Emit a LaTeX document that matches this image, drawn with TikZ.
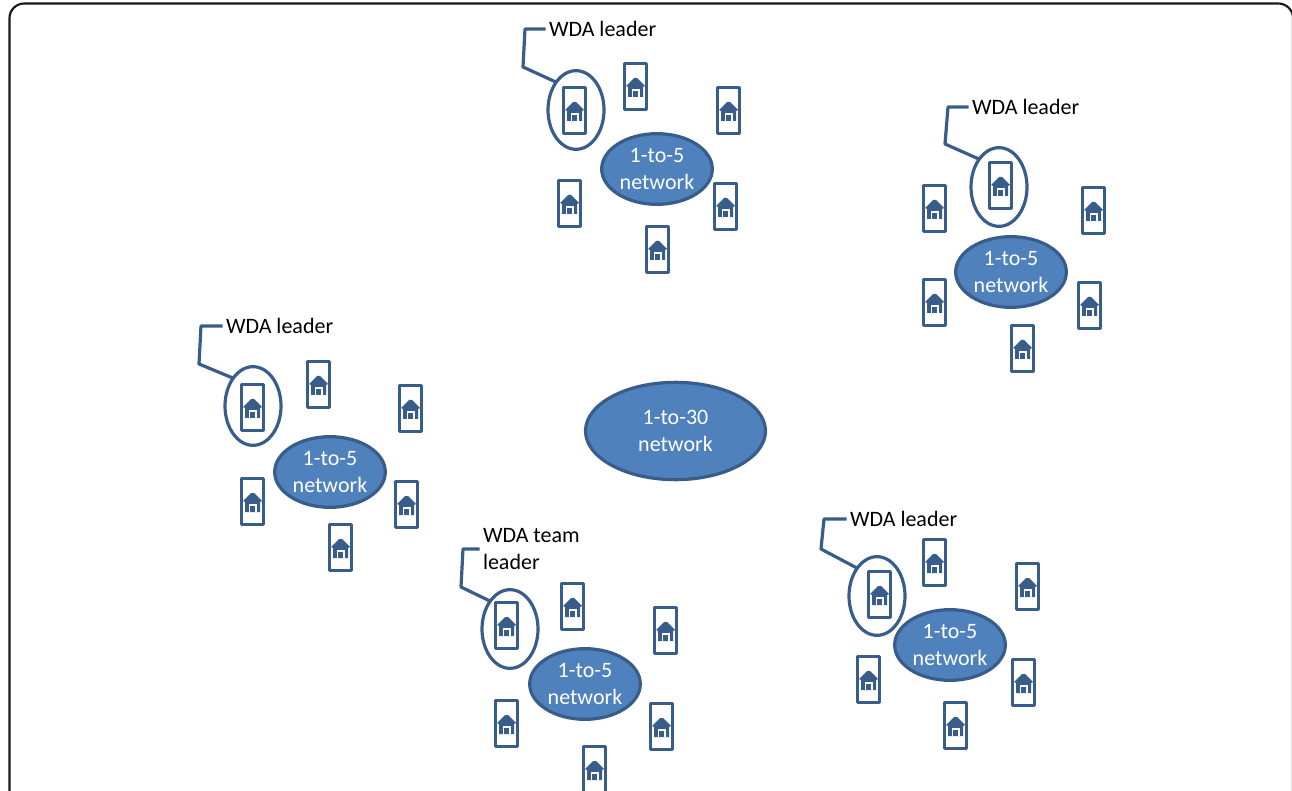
\documentclass[tikz,border=0pt]{standalone}
\usepackage{fontspec}
\setmainfont{Carlito}
\usepackage{tikz}
\usetikzlibrary{positioning, shapes.geometric}

\definecolor{netfill}{HTML}{4F81BD}
\definecolor{netline}{HTML}{385D8A}

\tikzset{
    net/.style={draw=netline, fill=netfill, ellipse, line width=2.4pt, inner sep=0, outer sep=0,
        align=center, text=white, font=\fontsize{16.5}{20}\selectfont},
    ring/.style={draw=netline, ellipse, line width=2.4pt, inner sep=0, outer sep=0,
        minimum width=42pt, minimum height=59pt},
    tag/.style={inner sep=0, outer sep=0, anchor=west, align=left, text=black,
        font=\fontsize{16.5}{20}\selectfont},
    tagline/.style={draw=netline, line width=2.4pt, line join=round, shorten <=2.5pt},
    phone/.pic={
        \draw[netline, line width=2.3pt, line join=round] (-10.5,-22.5) rectangle (11.5,23.5);
        \fill[netline] (-1,-8) -- (2,-8) -- (10,0) -- (8,1) -- (8,11) -- (-7,11) -- (-7,1) -- (-9,0) -- cycle;
        \fill[white] (-3.5,3) rectangle (4.5,5);
        \fill[white] (-3.5,5) rectangle (-1.6,11);
        \fill[white] (2.6,5) rectangle (4.5,11);
    }
}

\begin{document}
\begin{tikzpicture}[x=0.75pt, y=-0.75pt]

    \clip (0,0) rectangle (1292,791);

    % frame, open at the bottom
    \draw[black!90, line width=1.6pt, rounded corners=11pt]
        (9.5,800) -- (9.5,3.5) -- (1293,3.5) -- (1293,800);

    % the networks
    \node[net, minimum width=135pt, minimum height=73pt] (hub) at (675.5,431) {1-to-30\\network};
    \node[net, minimum width=83pt, minimum height=53pt] (netT) at (657,169) {1-to-5\\network};
    \node[net, minimum width=83pt, minimum height=53pt] (netR) at (1011,272) {1-to-5\\network};
    \node[net, minimum width=83pt, minimum height=53pt] (netL) at (330,472) {1-to-5\\network};
    \node[net, minimum width=83pt, minimum height=53pt] (netB) at (585,684) {1-to-5\\network};
    \node[net, minimum width=83pt, minimum height=53pt] (netD) at (950,645) {1-to-5\\network};

    % the phones
    \foreach \x/\y in {574/110,635/86,728/110,569/203,725/206,657/249,
                       1000/185,934/208,1093/210,934/302,1089/305,1022/348,
                       252/407,318/384,410/408,252/501,406/504,340/547,
                       506/625,572/606,665/630,506/723,661/726,594/769,
                       879/594,934/562,1027/586,868/679,1023/682,955/725}
    \pic at (\x,\y) {phone};

    % the leaders
    \node[ring] (ldrT) at (576,110) {};
    \node[ring] (ldrR) at (999,187) {};
    \node[ring] (ldrL) at (253,406) {};
    \node[ring] (ldrB) at (510,629) {};
    \node[ring] (ldrD) at (877,596) {};

    \node[tag] (tagT) at (549,29) {WDA leader};
    \node[tag] (tagR) at (972,107) {WDA leader};
    \node[tag] (tagL) at (226,326) {WDA leader};
    \node[tag] (tagB) at (483,549) {WDA team\\leader};
    \node[tag] (tagD) at (850,519) {WDA leader};

    \draw[tagline] (tagT.west) -- (525,29) -- (523,67) -- (ldrT.north west);
    \draw[tagline] (tagR.west) -- (948,107) -- (945,144) -- (ldrR.north west);
    \draw[tagline] (tagL.west) -- (201,326) -- (199,364) -- (ldrL.north west);
    \draw[tagline] (tagB.west) -- (463,549) -- (461,587) -- (ldrB.north west);
    \draw[tagline] (tagD.west) -- (824,519) -- (821,549) -- (ldrD.north west);

\end{tikzpicture}
\end{document}
